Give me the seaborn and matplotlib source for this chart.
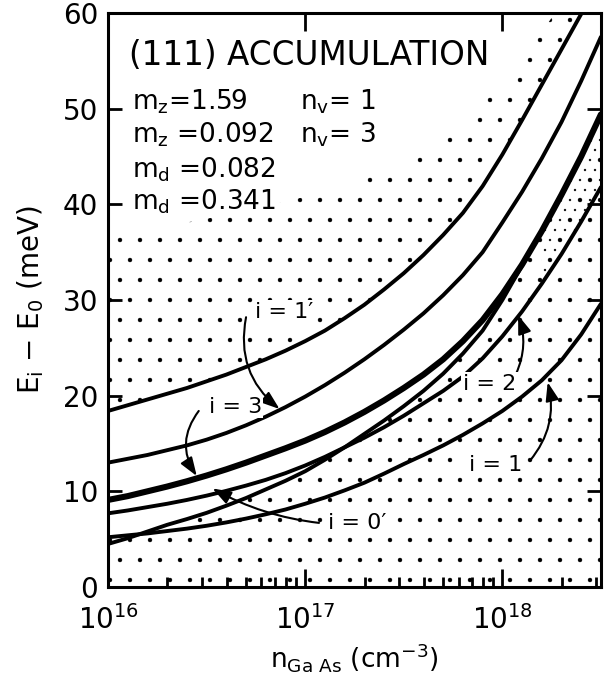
import numpy as np
import pandas as pd
import seaborn as sns
import matplotlib.pyplot as plt
from matplotlib.ticker import LogLocator, NullFormatter

# doping, log10(n_GaAs / cm^-3), read every 0.1 decade
log_n = [16.0, 16.1, 16.2, 16.3, 16.4, 16.5, 16.6, 16.7, 16.8, 16.9,
         17.0, 17.1, 17.2, 17.3, 17.4, 17.5, 17.6, 17.7, 17.8, 17.9,
         18.0, 18.1, 18.2, 18.3, 18.4, 18.5]

# E_i - E_0 (meV) for each curve
curve_a = [18.4, 19.0, 19.6, 20.2, 20.8, 21.5, 22.2, 23.0, 23.8, 24.7,
           25.7, 26.8, 28.1, 29.5, 31.1, 32.8, 34.7, 36.8, 39.1, 41.9,
           45.2, 48.8, 52.5, 56.2, 59.9, 63.6]
curve_b = [13.0, 13.4, 13.8, 14.3, 14.8, 15.4, 16.1, 16.9, 17.8, 18.8,
           19.9, 21.1, 22.4, 23.8, 25.3, 26.9, 28.6, 30.5, 32.6, 35.0,
           38.1, 41.3, 44.8, 48.6, 52.9, 57.5]
curve_c = [9.1, 9.5, 10.0, 10.5, 11.05, 11.65, 12.3, 13.0, 13.75, 14.5,
           15.3, 16.2, 17.2, 18.3, 19.5, 20.8, 22.2, 23.8, 25.7, 27.9,
           30.6, 33.7, 37.2, 41.0, 45.0, 49.4]
curve_d = [7.7, 8.0, 8.35, 8.7, 9.1, 9.55, 10.05, 10.6, 11.2, 11.9,
           12.7, 13.6, 14.6, 15.6, 16.7, 17.9, 19.2, 20.5, 22.0, 23.9,
           26.2, 28.8, 31.7, 34.8, 38.2, 41.8]
curve_e = [5.2, 5.4, 5.6, 5.85, 6.1, 6.4, 6.75, 7.15, 7.6, 8.1,
           8.7, 9.35, 10.1, 10.9, 11.85, 12.85, 13.8, 14.8, 15.9, 17.1,
           18.4, 19.9, 21.6, 23.7, 26.4, 29.6]
curve_f = [4.5, 5.1, 5.8, 6.5, 7.1, 7.75, 8.5, 9.3, 10.2, 11.1,
           12.1, 13.3, 14.6, 16.0, 17.4, 18.9, 20.5, 22.3, 24.4, 26.8,
           30.0, 33.6, 37.2, 41.0, 45.0, 49.4]
# upper edge of the stippled band above the top curve
band_top = [37.0, 37.2, 37.5, 37.8, 38.1, 38.5, 38.9, 39.3, 39.8, 40.3,
            40.8, 41.4, 42.0, 42.7, 43.5, 44.4, 45.5, 46.8, 48.5, 50.5,
            52.8, 55.3, 58.0, 61.0, 64.0, 67.0]

x_ticks = [1e16, 1e17, 1e18]
x_tick_labels = [r"$10^{16}$", r"$10^{17}$", r"$10^{18}$"]
y_ticks = [0, 10, 20, 30, 40, 50, 60]

# drawn at 120 dpi so the stipple hatch is as sparse as the original;
# K turns sizes planned for 100 dpi into points
DPI = 120
K = 100 / DPI

sns.set_theme(style="ticks", rc={"text.color": "black", "axes.labelcolor": "black",
                                 "xtick.color": "black", "ytick.color": "black",
                                 "axes.edgecolor": "black"})
plt.rcParams["font.family"] = ["DejaVu Sans"]
plt.rcParams["mathtext.default"] = "regular"
plt.rcParams["hatch.linewidth"] = 0.2

n = 10.0 ** np.array(log_n)
df = pd.DataFrame({"n": n, "A": curve_a, "B": curve_b, "C": curve_c,
                   "D": curve_d, "E": curve_e, "F": curve_f})
long = df.melt(id_vars="n", var_name="curve", value_name="E_meV")

fig = plt.figure(figsize=(607 / DPI, 679 / DPI), dpi=DPI)
ax = fig.add_axes([0.178, 0.1355, 0.812, 0.8454])

# stippled regions
low_top = np.maximum(df["E"], df["F"])
ax.fill_between(n, 0, low_top, facecolor="none", edgecolor="black",
                linewidth=0, hatch=".")
ax.fill_between(n, df["A"], band_top, facecolor="none", edgecolor="black",
                linewidth=0, hatch=".")
dense = np.array(log_n) >= 18.2
ax.fill_between(n, df["D"], df["C"], where=dense, facecolor="none",
                edgecolor="black", linewidth=0, hatch="..")

sns.lineplot(data=long, x="n", y="E_meV", units="curve", estimator=None,
             color="black", linewidth=2.8 * K, ax=ax)
sns.lineplot(data=df, x="n", y="C", color="black", linewidth=4.4 * K, ax=ax)

ax.set_xscale("log")
ax.set_xlim(1e16, 10 ** 18.5)
ax.set_ylim(0, 60)
ax.set_xticks(x_ticks, x_tick_labels)
ax.set_yticks(y_ticks)
ax.xaxis.set_minor_locator(LogLocator(base=10, subs=range(2, 10)))
ax.xaxis.set_minor_formatter(NullFormatter())
ax.tick_params(which="both", direction="in", top=True, right=True,
               width=2 * K, labelsize=20 * K, color="black")
ax.tick_params(which="major", length=10 * K)
ax.tick_params(axis="x", which="major", length=13 * K, pad=13 * K)
ax.tick_params(axis="x", which="minor", length=7 * K, top=False)
ax.tick_params(axis="y", which="major", pad=7 * K)
for s in ax.spines.values():
    s.set_linewidth(2.2 * K)

ax.set_xlabel(r"n$_{Ga\ As}$ (cm$^{-3}$)", fontsize=19 * K, labelpad=4 * K)
ax.set_ylabel(r"E$_i$ $-$ E$_0$ (meV)", fontsize=20 * K, labelpad=12 * K)

# text block
tr = ax.get_yaxis_transform()
ax.text(0.043, 55.6, "(111) ACCUMULATION", transform=tr, fontsize=23.5 * K,
        va="center", ha="left")
block = [(0.049, 50.7, r"$m_z$=1.59"), (0.389, 50.7, r"$n_v$= 1"),
         (0.049, 47.3, r"$m_z$ =0.092"), (0.389, 47.3, r"$n_v$= 3"),
         (0.049, 43.65, r"$m_d$ =0.082"), (0.049, 40.3, r"$m_d$ =0.341")]
for bx, by, txt in block:
    ax.text(bx, by, txt, transform=tr, fontsize=19 * K, va="center",
            bbox=dict(facecolor="white", edgecolor="none", pad=1))

# curve labels: text left edge, arrow start, arrow tip (log10 n, meV), bend
labels = [
    ("i = 1′", (16.745, 28.75), (16.70, 28.2), (16.87, 18.6), 0.3),
    ("i = 3", (16.51, 18.85), (16.46, 18.4), (16.45, 11.6), 0.35),
    ("i = 0′", (17.115, 6.67), (17.07, 6.7), (16.53, 10.3), -0.1),
    ("i = 2", (17.80, 21.25), (18.07, 22.3), (18.08, 28.4), 0.2),
    ("i = 1", (17.83, 12.8), (18.14, 13.2), (18.23, 21.4), 0.25),
]
for txt, pos, start, tip, rad in labels:
    ax.text(10 ** pos[0], pos[1], txt, fontsize=16 * K, ha="left", va="center",
            zorder=4, bbox=dict(facecolor="white", edgecolor="none", pad=1))
    ax.annotate("", xy=(10 ** tip[0], tip[1]), xytext=(10 ** start[0], start[1]),
                arrowprops=dict(arrowstyle="-|>,head_length=0.7,head_width=0.25",
                                connectionstyle=f"arc3,rad={rad}",
                                color="black", lw=1.5 * K, shrinkA=0, shrinkB=0,
                                mutation_scale=16 * K))

fig.savefig("out.png", dpi=DPI)
